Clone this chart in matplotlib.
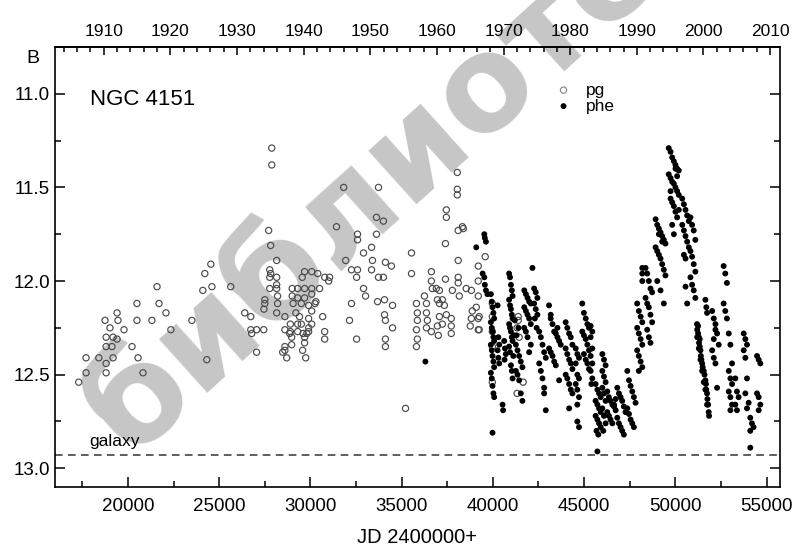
import matplotlib
matplotlib.use('Agg')
import matplotlib.pyplot as plt
from matplotlib.ticker import MultipleLocator

plt.rcParams['font.family'] = ['Liberation Sans', 'DejaVu Sans']

# photographic (pg) estimates, JD-2400000 and B mag
pg_jd = [17300, 17700, 17700, 18400, 18800, 18800, 18800, 18800, 18740, 19010,
         19180, 19400, 19120, 19180, 19450, 19400, 19780, 20220, 20490, 20490,
         20550, 20820, 21310, 21590, 21700, 22080, 22350, 23500, 24100, 24210,
         24540, 24600, 24320, 25630, 26400, 26730, 26730, 27050, 27440, 26780,
         27050, 27880, 27880, 27710, 27820, 28150, 27770, 27820, 27770, 28150,
         28150, 27770, 28150, 28200, 28200, 28150, 27500, 27500, 27450, 28600,
         29000, 29000, 29050, 28600, 28860, 28970, 28600, 28600, 28700, 28480,
         28970, 29300, 29680, 30070, 29300, 29680, 29500, 29900, 29550, 29680,
         30070, 30400, 30070, 30250, 30070, 30300, 29200, 29400, 29300, 28900,
         29500, 29900, 30070, 29900, 28900, 29300, 29600, 29800, 29900, 29680,
         29680, 29570, 29740, 30670, 30780, 30780, 30500, 30780, 31050, 31000,
         31820, 33730, 31430, 33620, 34000, 32580, 32580, 33620, 32910, 33350,
         31930, 33400, 34110, 34440, 32250, 32580, 32530, 33350, 33730, 34000,
         32910, 33020, 32250, 33680, 34060, 34500, 34060, 34110, 32140, 34500,
         32530, 34110, 34110, 35540, 35540, 35210, 35810, 35860, 35860, 35810,
         35860, 35810, 36250, 36360, 36360, 36410, 36630, 36360, 36630, 36630,
         36680, 36900, 37070, 36960, 37230, 37070, 37340, 37450, 37070, 36960,
         37010, 37230, 37720, 37720, 37720, 37780, 37400, 38050, 38050, 38050,
         37450, 37450, 37400, 38100, 38330, 38380, 38100, 38100, 38100, 38160,
         38540, 38820, 38870, 39090, 38820, 39200, 38760, 39200, 39200, 39200,
         39200, 39580, 39250, 39250, 39970, 39970, 39970, 39970, 39970, 41390,
         41390, 41330, 41440, 41330, 41660]
pg_mag = [12.54, 12.49, 12.41, 12.41, 12.49, 12.44, 12.35, 12.30, 12.21, 12.25,
          12.30, 12.31, 12.35, 12.41, 12.21, 12.17, 12.26, 12.35, 12.21, 12.12,
          12.41, 12.49, 12.21, 12.03, 12.12, 12.17, 12.26, 12.21, 12.05, 11.96,
          11.91, 12.03, 12.42, 12.03, 12.17, 12.19, 12.26, 12.26, 12.26, 12.28,
          12.38, 11.29, 11.38, 11.73, 11.81, 11.89, 11.94, 11.96, 11.98, 11.98,
          12.02, 12.04, 12.04, 12.08, 12.12, 12.17, 12.10, 12.12, 12.15, 12.19,
          12.04, 12.08, 12.12, 12.26, 12.28, 12.30, 12.35, 12.37, 12.41, 12.38,
          12.34, 12.04, 12.04, 12.04, 12.09, 12.09, 12.12, 12.13, 11.98, 11.95,
          11.95, 11.96, 12.07, 12.12, 12.16, 12.11, 12.17, 12.19, 12.23, 12.23,
          12.23, 12.20, 12.23, 12.27, 12.27, 12.27, 12.28, 12.28, 12.25, 12.30,
          12.33, 12.37, 12.41, 12.19, 12.27, 12.31, 12.04, 11.98, 11.98, 12.00,
          11.50, 11.50, 11.71, 11.66, 11.68, 11.75, 11.78, 11.75, 11.85, 11.82,
          11.89, 11.89, 11.90, 11.92, 11.94, 11.94, 11.98, 11.94, 11.98, 11.98,
          12.04, 12.08, 12.12, 12.11, 12.10, 12.13, 12.18, 12.21, 12.21, 12.25,
          12.31, 12.31, 12.35, 11.85, 11.96, 12.68, 12.12, 12.17, 12.21, 12.26,
          12.31, 12.35, 12.08, 12.12, 12.17, 12.21, 12.27, 12.25, 11.95, 12.00,
          12.04, 12.04, 12.05, 12.10, 12.10, 12.12, 12.13, 12.18, 12.19, 12.24,
          12.29, 12.23, 12.20, 12.24, 12.28, 12.05, 11.99, 11.42, 11.51, 11.54,
          11.62, 11.66, 11.80, 11.73, 11.71, 11.72, 11.89, 11.98, 12.01, 12.08,
          12.04, 12.05, 12.16, 12.14, 12.20, 12.20, 12.24, 12.26, 12.08, 12.00,
          11.92, 11.87, 12.19, 12.26, 12.12, 12.19, 12.27, 12.35, 12.54, 12.19,
          12.21, 12.25, 12.30, 12.60, 12.54]

# photoelectric (phe) observations, season by season
phe_jd = (
    [36300, 39090, 39530, 39560, 39620, 39440, 39530, 39560, 39620, 39700]
    + [39890, 39940, 39980, 40030, 40070, 39890, 39940, 39980, 40030, 40070,
       39890, 39940, 39980, 40030, 40070, 39890, 39940, 39980, 40030, 40070, 39980]
    + [40260, 40300, 40350, 40260, 40300, 40350, 40530, 40560]
    + [40620, 40660, 40710, 40640]
    + [40890, 40940, 40990, 41040, 41080, 40890, 40940, 40990, 41040, 41080,
       40890, 40940, 40990, 41040, 41080, 40890, 40940, 40990, 41040, 41080,
       41120, 41160, 41200]
    + [41260, 41350, 41440, 41530, 41620, 41260, 41350, 41440, 41530, 41620,
       41300, 41400]
    + [41720, 41810, 41900, 41990, 42080, 41720, 41810, 41900, 41990, 42080,
       41720, 41810, 41900, 42170, 42080, 41990]
    + [42260, 42350, 42440, 42260, 42350, 42440, 42300, 42400]
    + [42540, 42630, 42720, 42810, 42900, 42540, 42630, 42720, 42810, 42810,
       42900]
    + [43080, 43170, 43270, 43360, 43450, 43540, 43630, 43720, 43080, 43170,
       43270, 43360, 43450, 43630, 43540, 43170]
    + [43990, 44080, 44180, 44270, 44360, 43990, 44080, 44180, 44270, 44360,
       43990, 44080, 44180, 44270, 44360, 44180]
    + [44540, 44630, 44720, 44540, 44630, 44720, 44540, 44630, 44720, 44630,
       44630, 44720]
    + [44900, 44990, 45090, 45180, 45270, 44900, 44990, 45090, 45180, 45270,
       44990, 45090, 45180, 45270]
    + [45360, 45450, 45360, 45450, 45360, 45450, 45360, 45450, 45400]
    + [45630, 45730, 45820, 45910, 45630, 45730, 45820, 45910, 45630, 45730,
       45820, 45910, 45680, 45780, 45730]
    + [46000, 46090, 46180, 46000, 46090, 46180, 46000, 46090, 46180, 46000,
       46090, 46180, 46050]
    + [46270, 46360, 46450, 46550, 46640, 46730, 46270, 46360, 46450, 46550,
       46640, 46730]
    + [46820, 46910, 47000, 47090, 47180, 47270, 46820, 46910, 47000, 47090,
       47180]
    + [47370, 47460, 47550, 47640, 47730, 47820, 47370, 47460, 47550, 47640,
       47730]
    + [47910, 48000, 48100, 48190, 47910, 48000, 48100, 48190, 47910, 48000,
       48100, 48190, 48000, 48190, 48190, 48190]
    + [48370, 48460, 48550, 48640, 48730, 48370, 48460, 48550, 48640, 48730,
       48460, 48550, 48640]
    + [48920, 49010, 49100, 49190, 49280, 49370, 49460, 48920, 49010, 49100,
       49190, 49280, 49370, 49460, 49010, 49190, 49370, 49100, 49280]
    + [49640, 49740, 49830, 49920, 50010, 50100, 50190, 49640, 49740, 49830,
       49920, 50010, 50100, 50190, 49740, 49830, 49920, 50010, 50100, 49830,
       49920, 50010, 50100, 49740, 50190]
    + [50380, 50470, 50560, 50650, 50740, 50380, 50470, 50560, 50650, 50740,
       50470, 50560, 50560, 50650]
    + [50830, 50920, 51010, 51100, 50830, 50920, 51010, 51100, 50830, 50920,
       51010, 51100]
    + [51190, 51200, 51250, 51290, 51300, 51340, 51380, 51400, 51430, 51470,
       51500, 51560, 51600, 51650, 51680, 51700, 51740, 51760, 51800, 51830,
       51850, 51200, 51290, 51380, 51470, 51560, 51650, 51740, 51250, 51340]
    + [51650, 51700, 51740]
    + [52020, 52110, 52200, 52290, 52380, 52020, 52110, 52200, 52290, 52200,
       52110]
    + [52650, 52740, 52830, 52650, 52740, 52830]
    + [52930, 53020, 53110, 52930, 53020, 53110, 52930, 53020, 53110, 53020]
    + [53290, 53380, 53470, 53290, 53380]
    + [53750, 53840, 53930, 53750, 53840, 53930, 53840, 53930]
    + [54020, 54110, 54200, 54290, 54110, 54110]
    + [54480, 54570, 54660, 54480, 54570, 54660, 54570]
)
phe_mag = (
    [12.43, 11.82, 11.75, 11.77, 11.79, 11.96, 11.98, 12.02, 12.05, 12.07]
    + [12.07, 12.11, 12.14, 12.17, 12.20, 12.22, 12.25, 12.27, 12.30, 12.32,
       12.34, 12.37, 12.40, 12.43, 12.46, 12.49, 12.52, 12.56, 12.60, 12.62, 12.81]
    + [12.13, 12.30, 12.34, 12.37, 12.41, 12.44, 12.66, 12.69]
    + [12.32, 12.36, 12.39, 12.42]
    + [11.96, 11.98, 12.02, 12.05, 12.08, 12.10, 12.13, 12.15, 12.18, 12.20,
       12.23, 12.25, 12.27, 12.30, 12.32, 12.35, 12.38, 12.45, 12.48, 12.52,
       12.40, 12.29, 12.21]
    + [12.34, 12.37, 12.40, 12.43, 12.46, 12.48, 12.50, 12.53, 12.60, 12.64,
       12.29, 12.25]
    + [12.05, 12.07, 12.09, 12.11, 12.12, 12.14, 12.16, 12.18, 12.20, 12.23,
       12.25, 12.27, 12.30, 11.93, 12.34, 12.38]
    + [12.04, 12.06, 12.09, 12.12, 12.15, 12.18, 12.20, 12.25]
    + [12.27, 12.30, 12.34, 12.38, 12.41, 12.44, 12.48, 12.52, 12.57, 12.60,
       12.69]
    + [12.13, 12.20, 12.23, 12.27, 12.28, 12.30, 12.32, 12.34, 12.36, 12.38,
       12.40, 12.43, 12.45, 12.53, 12.25, 12.18]
    + [12.22, 12.25, 12.28, 12.30, 12.34, 12.36, 12.39, 12.42, 12.44, 12.47,
       12.50, 12.52, 12.55, 12.58, 12.60, 12.68]
    + [12.36, 12.39, 12.41, 12.44, 12.50, 12.52, 12.55, 12.58, 12.62, 12.66,
       12.75, 12.78]
    + [12.12, 12.17, 12.20, 12.23, 12.25, 12.27, 12.29, 12.31, 12.34, 12.37,
       12.39, 12.42, 12.44, 12.47]
    + [12.24, 12.27, 12.30, 12.36, 12.40, 12.44, 12.48, 12.52, 12.55]
    + [12.55, 12.58, 12.60, 12.62, 12.64, 12.66, 12.68, 12.70, 12.72, 12.74,
       12.76, 12.78, 12.80, 12.82, 12.91]
    + [12.39, 12.42, 12.45, 12.48, 12.51, 12.54, 12.57, 12.60, 12.64, 12.68,
       12.72, 12.76, 12.80]
    + [12.59, 12.62, 12.64, 12.66, 12.67, 12.69, 12.70, 12.72, 12.74, 12.76,
       12.66, 12.63]
    + [12.57, 12.60, 12.62, 12.64, 12.67, 12.70, 12.73, 12.76, 12.78, 12.80,
       12.82]
    + [12.48, 12.53, 12.56, 12.59, 12.62, 12.65, 12.68, 12.71, 12.74, 12.76,
       12.78]
    + [12.12, 12.16, 12.19, 12.22, 12.25, 12.28, 12.31, 12.34, 12.37, 12.40,
       12.43, 12.46, 12.48, 11.93, 11.96, 12.00]
    + [11.93, 11.96, 12.00, 12.04, 12.06, 12.09, 12.12, 12.14, 12.18, 12.22,
       12.26, 12.30, 12.33]
    + [11.67, 11.70, 11.72, 11.74, 11.76, 11.78, 11.80, 11.82, 11.84, 11.86,
       11.88, 11.91, 11.94, 11.97, 12.00, 12.05, 12.12, 11.75, 11.79]
    + [11.29, 11.31, 11.34, 11.36, 11.38, 11.40, 11.41, 11.43, 11.45, 11.47,
       11.48, 11.50, 11.52, 11.54, 11.56, 11.58, 11.60, 11.63, 11.66, 11.70,
       11.75, 11.40, 11.44, 11.52, 11.62]
    + [11.56, 11.59, 11.62, 11.65, 11.68, 11.70, 11.73, 11.76, 11.79, 11.82,
       11.86, 11.88, 12.03, 12.12]
    + [11.66, 11.70, 11.73, 11.78, 11.84, 11.87, 11.91, 11.95, 11.98, 12.02,
       12.05, 12.09]
    + [12.23, 12.26, 12.28, 12.30, 12.33, 12.35, 12.37, 12.40, 12.42, 12.44,
       12.46, 12.48, 12.50, 12.53, 12.55, 12.58, 12.60, 12.63, 12.66, 12.70,
       12.72, 12.30, 12.36, 12.42, 12.48, 12.54, 12.58, 12.66, 12.24, 12.31]
    + [12.10, 12.14, 12.17]
    + [12.16, 12.20, 12.23, 12.28, 12.34, 12.37, 12.41, 12.44, 12.57, 12.26,
       12.31]
    + [11.92, 11.96, 12.01, 12.12, 12.16, 12.20]
    + [12.28, 12.34, 12.44, 12.48, 12.52, 12.55, 12.59, 12.62, 12.66, 12.69]
    + [12.52, 12.59, 12.62, 12.66, 12.69]
    + [12.28, 12.31, 12.34, 12.37, 12.41, 12.52, 12.60, 12.68]
    + [12.65, 12.73, 12.76, 12.78, 12.80, 12.89]
    + [12.40, 12.42, 12.44, 12.60, 12.62, 12.66, 12.69]
)

galaxy_mag = 12.93


def jd2yr(jd):
    return 2000.0 + (jd - 51544.5) / 365.25


def yr2jd(yr):
    return 51544.5 + (yr - 2000.0) * 365.25


fig = plt.figure(figsize=(7.93, 5.46), dpi=100)
ax = fig.add_axes([0.0694, 0.108, 0.914, 0.806])
ax.patch.set_visible(False)

# library stamp watermark from the scanned page, behind everything
fig.text(0.555, 0.765, 'библиотека', rotation=42, rotation_mode='anchor',
         ha='center', va='center', fontsize=95, fontweight='bold',
         color='#c6c6c6', family='DejaVu Sans', zorder=-5)

ax.scatter(pg_jd, pg_mag, s=20, facecolors='none', edgecolors='#4a4a4a',
           linewidths=0.85, label='pg', zorder=3)
ax.scatter(phe_jd, phe_mag, s=18, c='black', edgecolors='none', label='phe',
           zorder=4)
ax.axhline(galaxy_mag, color='#333333', lw=1.1, ls=(0, (5, 3.5)), zorder=2)
ax.text(17900, 12.88, 'galaxy', fontsize=12.5)
ax.text(17900, 11.06, 'NGC 4151', fontsize=16)

ax.set_xlim(16000, 55730)
ax.set_ylim(13.1, 10.75)
ax.xaxis.set_major_locator(MultipleLocator(5000))
ax.xaxis.set_minor_locator(MultipleLocator(2500))
ax.yaxis.set_major_locator(MultipleLocator(0.5))
ax.yaxis.set_minor_locator(MultipleLocator(0.25))
ax.yaxis.set_major_formatter(plt.FormatStrFormatter('%.1f'))
ax.tick_params(which='both', direction='in', labelsize=13.5, width=1.1,
               right=True, top=False)
ax.tick_params(which='major', length=7)
ax.tick_params(which='minor', length=4.5)
ax.tick_params(axis='x', pad=8)

sec = ax.secondary_xaxis('top', functions=(jd2yr, yr2jd))
sec.xaxis.set_major_locator(MultipleLocator(10))
sec.xaxis.set_minor_locator(MultipleLocator(2))
sec.tick_params(which='both', direction='in', labelsize=12.5, width=1.1, pad=6)
sec.tick_params(which='major', length=6)
sec.tick_params(which='minor', length=3.5)

for sp in list(ax.spines.values()) + list(sec.spines.values()):
    sp.set_linewidth(1.2)

ax.set_xlabel('JD 2400000+', fontsize=14.5, labelpad=9)
fig.text(0.042, 0.893, 'B', fontsize=14, ha='center', va='center')

leg = ax.legend(loc='upper left', bbox_to_anchor=(0.68, 0.935), frameon=False,
                fontsize=12.5, handlelength=1.0, handletextpad=0.8,
                labelspacing=0.05, borderaxespad=0)
leg.legend_handles[0].set_edgecolor('#888888')

fig.savefig('out.png', dpi=100)
